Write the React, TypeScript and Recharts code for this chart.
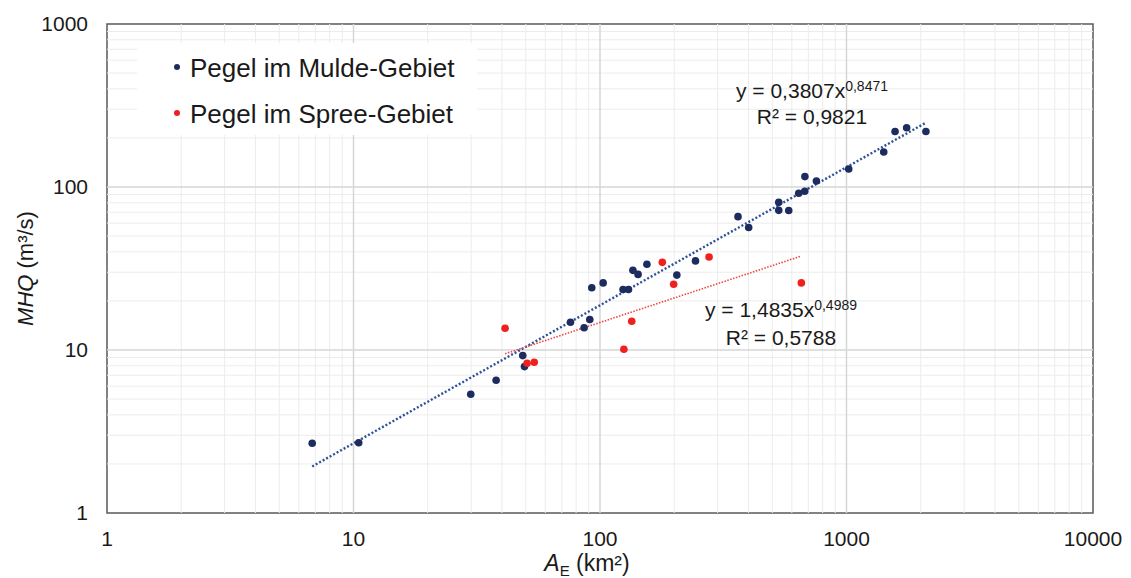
import React from "react";
import {
  Label,
  ReferenceArea,
  ReferenceLine,
  Scatter,
  ScatterChart,
  XAxis,
  YAxis
} from "recharts";

const FONT = '"Liberation Sans", Arial, sans-serif';
const INK = "#1a1a1a";
const MULDE = "#1c2c5e";
const MULDE_TREND = "#2d5296";
const SPREE = "#f0201e";
const SPREE_TREND = "#f04545";

const xTicks = [1, 10, 100, 1000, 10000];
const yTicks = [1, 10, 100, 1000];

// Pegel im Mulde-Gebiet: catchment area A_E (km²) and MHQ (m³/s)
const muldeArea = [
  6.8, 10.5, 29.9, 37.9, 48.6, 49.4, 75.9, 86.2, 90.9, 92.6, 103, 124, 130.5,
  136, 142.7, 155, 205, 244, 363, 401, 531, 531, 583, 640, 677, 678, 755, 1021,
  1416, 1574, 1754, 2100
];
const muldeMhq = [
  2.68, 2.7, 5.35, 6.52, 9.24, 7.91, 14.8, 13.7, 15.4, 24.1, 25.8, 23.5, 23.5,
  30.8, 29.1, 33.6, 28.8, 35.2, 65.8, 56.4, 80.5, 71.9, 71.7, 91.5, 94.1, 115.8,
  108.8, 129, 164, 219, 231, 219
];

// Pegel im Spree-Gebiet
const spreeArea = [41.2, 50.6, 54.1, 125, 134.5, 179, 199, 277, 656];
const spreeMhq = [13.6, 8.29, 8.41, 10.1, 15.0, 34.5, 25.3, 37.2, 25.8];

// power-law trend lines, start and end points
const muldeTrendArea = [6.8, 2100];
const muldeTrendMhq = [1.93, 248];
const spreeTrendArea = [41.2, 656];
const spreeTrendMhq = [9.48, 37.7];

const minorSteps = [2, 3, 4, 5, 6, 7, 8, 9];
const minorX = [1, 10, 100, 1000].flatMap((d) => minorSteps.map((s) => d * s));
const minorY = [1, 10, 100].flatMap((d) => minorSteps.map((s) => d * s));

const toPoints = (xs: number[], ys: number[]) =>
  xs.map((x, i) => ({ x, y: ys[i] }));

const muldeData = toPoints(muldeArea, muldeMhq);
const spreeData = toPoints(spreeArea, spreeMhq);

const dot = (color: string) => (props: any) =>
  <circle cx={props.cx} cy={props.cy} r={3.8} fill={color} />;

const XTitle = (props: any) => {
  const vb = props.viewBox ?? { x: 107, y: 513, width: 986, height: 65 };
  return (
    <text
      x={vb.x + vb.width / 2 - 13}
      y={vb.y + 58}
      textAnchor="middle"
      fontSize={23}
      fontFamily={FONT}
      fill={INK}
    >
      <tspan fontStyle="italic">A</tspan>
      <tspan fontSize={15} dy={5}>E</tspan>
      <tspan dy={-5}>{" (km²)"}</tspan>
    </text>
  );
};

const YTitle = (props: any) => {
  const vb = props.viewBox ?? { x: 0, y: 24, width: 107, height: 489 };
  const cy = vb.y + vb.height / 2;
  return (
    <text
      x={33}
      y={cy}
      transform={`rotate(-90, 33, ${cy})`}
      textAnchor="middle"
      fontSize={22}
      fontFamily={FONT}
      fill={INK}
    >
      <tspan fontStyle="italic">MHQ</tspan>
      <tspan>{" (m³/s)"}</tspan>
    </text>
  );
};

const supStyle: React.CSSProperties = {
  fontSize: 14,
  position: "relative",
  top: -7
};

export default function App() {
  return (
    <div
      style={{
        position: "relative",
        width: 1131,
        height: 578,
        background: "#fff",
        fontFamily: FONT,
        color: INK
      }}
    >
      <style>{"body{margin:0}"}</style>
      <ScatterChart
        width={1131}
        height={578}
        margin={{ top: 24, right: 38, bottom: 0, left: 0 }}
      >
        <XAxis
          type="number"
          dataKey="x"
          scale="log"
          domain={[1, 10000]}
          ticks={xTicks}
          interval={0}
          allowDataOverflow
          axisLine={false}
          tickLine={false}
          tickSize={0}
          tickMargin={18}
          height={65}
          tick={{ fill: INK, fontSize: 21, fontFamily: FONT }}
        >
          <Label content={XTitle} />
        </XAxis>
        <YAxis
          type="number"
          dataKey="y"
          scale="log"
          domain={[1, 1000]}
          ticks={yTicks}
          interval={0}
          allowDataOverflow
          axisLine={false}
          tickLine={false}
          tickSize={0}
          tickMargin={19}
          width={107}
          tick={{ fill: INK, fontSize: 21, fontFamily: FONT }}
        >
          <Label content={YTitle} />
        </YAxis>

        {minorX.map((v) => (
          <ReferenceLine key={`mx${v}`} x={v} stroke="#ececec" strokeWidth={1} />
        ))}
        {minorY.map((v) => (
          <ReferenceLine key={`my${v}`} y={v} stroke="#ececec" strokeWidth={1} />
        ))}
        {xTicks.slice(1, -1).map((v) => (
          <ReferenceLine key={`Mx${v}`} x={v} stroke="#d6d6d6" strokeWidth={1.5} />
        ))}
        {yTicks.slice(1, -1).map((v) => (
          <ReferenceLine key={`My${v}`} y={v} stroke="#d6d6d6" strokeWidth={1.5} />
        ))}

        <ReferenceLine
          segment={toPoints(muldeTrendArea, muldeTrendMhq)}
          stroke={MULDE_TREND}
          strokeWidth={2.4}
          strokeDasharray="2 2"
        />
        <ReferenceLine
          segment={toPoints(spreeTrendArea, spreeTrendMhq)}
          stroke={SPREE_TREND}
          strokeWidth={1.6}
          strokeDasharray="1.5 1.5"
        />

        <Scatter
          name="Pegel im Mulde-Gebiet"
          data={muldeData}
          shape={dot(MULDE)}
          isAnimationActive={false}
        />
        <Scatter
          name="Pegel im Spree-Gebiet"
          data={spreeData}
          shape={dot(SPREE)}
          isAnimationActive={false}
        />

        <ReferenceArea
          x1={1}
          x2={10000}
          y1={1}
          y2={1000}
          fill="none"
          stroke="#595959"
          strokeWidth={1.5}
        />
      </ScatterChart>

      {/* legend box, white so it hides the grid behind it */}
      <div
        style={{
          position: "absolute",
          left: 137,
          top: 43,
          width: 340,
          height: 92,
          background: "#fff",
          fontSize: 26,
          lineHeight: "30px"
        }}
      >
        {[
          { label: "Pegel im Mulde-Gebiet", color: MULDE },
          { label: "Pegel im Spree-Gebiet", color: SPREE }
        ].map((item, i) => (
          <div key={item.label}>
            <span
              style={{
                position: "absolute",
                left: 37,
                top: 21 + i * 46,
                width: 6,
                height: 6,
                borderRadius: 3,
                background: item.color
              }}
            />
            <span
              style={{
                position: "absolute",
                left: 53,
                top: 10 + i * 46,
                whiteSpace: "nowrap"
              }}
            >
              {item.label}
            </span>
          </div>
        ))}
      </div>

      <div
        style={{
          position: "absolute",
          left: 712,
          top: 79,
          width: 200,
          textAlign: "center",
          fontSize: 21,
          lineHeight: "24px",
          whiteSpace: "nowrap"
        }}
      >
        <div>
          y = 0,3807x<span style={supStyle}>0,8471</span>
        </div>
        <div>R² = 0,9821</div>
      </div>

      <div
        style={{
          position: "absolute",
          left: 681,
          top: 297,
          width: 200,
          textAlign: "center",
          fontSize: 21,
          lineHeight: "26px",
          whiteSpace: "nowrap"
        }}
      >
        <div>
          y = 1,4835x<span style={supStyle}>0,4989</span>
        </div>
        <div>R² = 0,5788</div>
      </div>
    </div>
  );
}
